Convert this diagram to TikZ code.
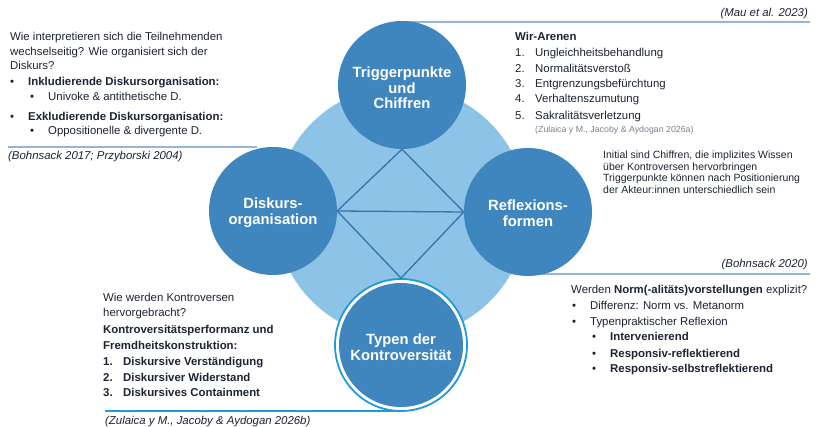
\documentclass[tikz,border=0pt]{standalone}
\usepackage{fontspec}
\setmainfont{Liberation Sans}
\definecolor{ink}{HTML}{1C2433}
\definecolor{cblue}{HTML}{3F86BF}
\definecolor{lblue}{HTML}{8DC3E6}
\definecolor{dline}{HTML}{3474AA}
\definecolor{rulec}{HTML}{93B6DC}
\definecolor{ringc}{HTML}{1E9BD8}
\definecolor{greyc}{HTML}{7A8290}
\tikzset{
  txt/.style={anchor=base west, inner sep=0pt, text=ink, font=\fontsize{11.4}{13}\selectfont},
  smalltxt/.style={anchor=base west, inner sep=0pt, text=ink, font=\fontsize{10.5}{11}\selectfont},
  citetxt/.style={inner sep=0pt, text=ink, font=\fontsize{11.4}{13}\selectfont\itshape},
  tinycite/.style={anchor=base west, inner sep=0pt, text=greyc, font=\fontsize{8.8}{10}\selectfont},
  bigcirc/.style={circle, fill=cblue, minimum size=128pt, inner sep=0pt},
  ctext/.style={text=white, align=center, inner sep=0pt, font=\fontsize{14.8}{15.6}\selectfont\bfseries},
  rule/.style={draw=rulec, line width=1.3pt},
  dia/.style={draw=dline, line width=1.3pt},
}
\begin{document}
\begin{tikzpicture}[x=1pt,y=-1pt]
\useasboundingbox (0,0) rectangle (816,427);
\fill[white] (0,0) rectangle (816,427);

% rules
\coordinate (r1a) at (405,22);  \coordinate (r1b) at (810,22);
\coordinate (r2a) at (8,147);   \coordinate (r2b) at (257,147);
\coordinate (r3a) at (540,274); \coordinate (r3b) at (810,274);
\coordinate (r4a) at (105,411); \coordinate (r4b) at (401,411);
\draw[rule] (r1a) -- (r1b);
\draw[rule] (r2a) -- (r2b);
\draw[rule] (r3a) -- (r3b);
\draw[draw=ringc, line width=1.6pt] (r4a) -- (r4b);

% hub
\node[circle, fill=lblue, minimum size=252pt, inner sep=0pt] (hub) at (401,212) {};

% circles
\node[bigcirc] (top) at (402,85) {};
\node[bigcirc] (left) at (273,211) {};
\node[bigcirc] (right) at (528,212) {};
\node[circle, draw=ringc, line width=1.8pt, fill=white, minimum size=132pt, inner sep=0pt] (botring) at (401,345) {};
\node[bigcirc, minimum size=124pt] (bot) at (401,345) {};

% diamond
\draw[dia] (top.south) -- (right.west) -- (botring.north) -- (left.east) -- cycle;
\draw[dia] (left.east) -- (right.west);

% circle texts
\node[ctext] (tt) at (402,88) {Triggerpunkte\\und\\Chiffren};
\node[ctext] (lt) at (273,213) {Diskurs-\\organisation};
\node[ctext] (rt) at (528,213) {Reflexions-\\formen};
\node[ctext] (bt) at (401,347) {Typen der\\Kontroversität};

% top-left block
\node[txt] (a1) at (10,41) {Wie interpretieren sich die Teilnehmenden};
\node[txt] (a2) at (10,56) {wechselseitig? Wie organisiert sich der};
\node[txt] (a3) at (10,70) {Diskurs?};
\node[txt] (a4b) at (10,86) {•};
\node[txt] (a4) at (28,86) {\bfseries Inkludierende Diskursorganisation:};
\node[txt] (a5b) at (30,101) {•};
\node[txt] (a5) at (48,101) {Univoke \& antithetische D.};
\node[txt] (a6b) at (10,121) {•};
\node[txt] (a6) at (28,121) {\bfseries Exkludierende Diskursorganisation:};
\node[txt] (a7b) at (30,135) {•};
\node[txt] (a7) at (48,135) {Oppositionelle \& divergente D.};
\node[citetxt, anchor=base west] (ac) at (8,160) {(Bohnsack 2017; Przyborski 2004)};

% top-right block
\node[citetxt, anchor=base east] (mau) at (808,17) {(Mau et al. 2023)};
\node[txt] (b0) at (515,41) {\bfseries Wir-Arenen};
\node[txt] (b1n) at (515,57) {1.};  \node[txt] (b1) at (535,57) {Ungleichheitsbehandlung};
\node[txt] (b2n) at (515,73) {2.};  \node[txt] (b2) at (535,73) {Normalitätsverstoß};
\node[txt] (b3n) at (515,88) {3.};  \node[txt] (b3) at (535,88) {Entgrenzungsbefürchtung};
\node[txt] (b4n) at (515,103) {4.}; \node[txt] (b4) at (535,103) {Verhaltenszumutung};
\node[txt] (b5n) at (515,120) {5.}; \node[txt] (b5) at (535,120) {Sakralitätsverletzung};
\node[tinycite] (bc) at (535,132.5) {(Zulaica y M., Jacoby \& Aydogan 2026a)};

% right middle block
\node[smalltxt] (c1) at (603,159) {Initial sind Chiffren, die implizites Wissen};
\node[smalltxt] (c2) at (603,170.5) {über Kontroversen hervorbringen};
\node[smalltxt] (c3) at (603,182) {Triggerpunkte können nach Positionierung};
\node[smalltxt] (c4) at (603,193.5) {der Akteur:innen unterschiedlich sein};
\node[citetxt, anchor=base east] (bo20) at (808,268) {(Bohnsack 2020)};

% bottom-right block
\node[txt] (d0) at (571,294) {Werden \textbf{Norm(-alitäts)vorstellungen} explizit?};
\node[txt] (d1b) at (572,310) {•}; \node[txt] (d1) at (590,310) {Differenz: Norm vs. Metanorm};
\node[txt] (d2b) at (572,326) {•}; \node[txt] (d2) at (590,326) {Typenpraktischer Reflexion};
\node[txt] (d3b) at (592,341) {•}; \node[txt] (d3) at (610,341) {\bfseries Intervenierend};
\node[txt] (d4b) at (592,357) {•}; \node[txt] (d4) at (610,357) {\bfseries Responsiv-reflektierend};
\node[txt] (d5b) at (592,372) {•}; \node[txt] (d5) at (610,372) {\bfseries Responsiv-selbstreflektierend};

% bottom-left block
\node[txt] (e1) at (103,302) {Wie werden Kontroversen};
\node[txt] (e2) at (103,317) {hervorgebracht?};
\node[txt] (e3) at (103,334) {\bfseries Kontroversitätsperformanz und};
\node[txt] (e4) at (103,349) {\bfseries Fremdheitskonstruktion:};
\node[txt] (e5n) at (103,365) {\bfseries 1.}; \node[txt] (e5) at (123,365) {\bfseries Diskursive Verständigung};
\node[txt] (e6n) at (103,381) {\bfseries 2.}; \node[txt] (e6) at (123,381) {\bfseries Diskursiver Widerstand};
\node[txt] (e7n) at (103,396) {\bfseries 3.}; \node[txt] (e7) at (123,396) {\bfseries Diskursives Containment};
\node[citetxt, anchor=base west] (ec) at (105,424) {(Zulaica y M., Jacoby \& Aydogan 2026b)};
\end{tikzpicture}
\end{document}
